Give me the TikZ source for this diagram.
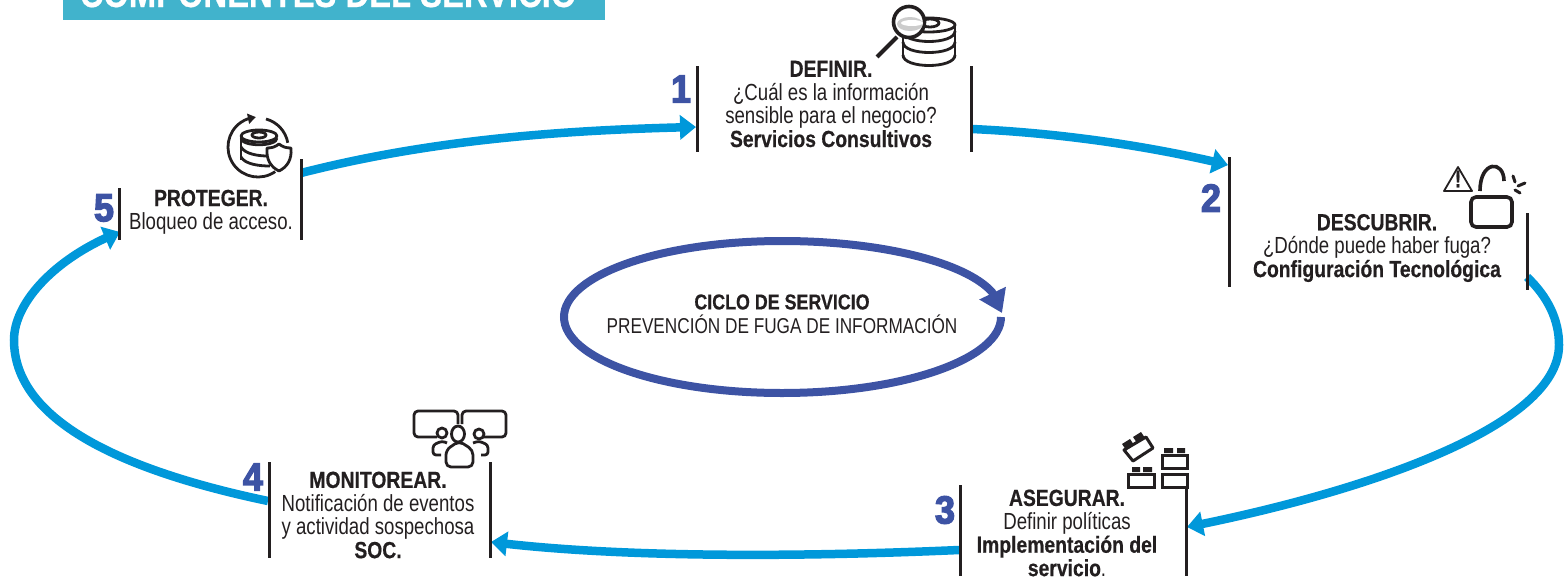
\documentclass[tikz,border=0pt]{standalone}
\usepackage{fontspec}
\setmainfont{Liberation Sans}[FakeStretch=0.8,BoldFeatures={FakeStretch=0.83,FakeBold=0.5}]
\newfontfamily\numfont{Liberation Sans Bold}[FakeStretch=0.92,FakeBold=3.5]
\usetikzlibrary{arrows.meta}
\usetikzlibrary{bending}
\definecolor{cielo}{HTML}{0098DA}
\definecolor{anil}{HTML}{3D53A4}
\definecolor{banda}{HTML}{41B3CC}
\definecolor{tinta}{HTML}{231F20}
\newcommand{\dbarc}[4]{(#1,#3) .. controls (#1,#3+#4) and (#2,#3+#4) .. (#2,#3)}
\tikzset{>={Triangle[length=16pt,width=24pt]}}
\tikzset{
	stagetext/.style={align=center,text=tinta,inner sep=0pt,font=\fontsize{23.3}{23.4}\selectfont},
	stagenum/.style={text=anil,inner sep=0pt,font=\fontsize{39}{39}\numfont},
	stagebar/.style={line width=3pt,tinta},
	cyclearrow/.style={line width=8.5pt,cielo,->},
	iconline/.style={line width=2.8pt,tinta,line join=round}
}

\begin{document}
\begin{tikzpicture}[x=1pt,y=-1pt]
			\useasboundingbox (0,0) rectangle (1566,579);
			\fill[banda] (63,-5) rectangle (605,20);
			\node[anchor=base,text=white,inner sep=0pt,font=\fontsize{39.5}{39.5}\selectfont\bfseries] (banner) at (328,7) {COMPONENTES DEL SERVICIO};

			\coordinate (defTL) at (697,66);
			\coordinate (defBL) at (697,152);
			\coordinate (defTR) at (971,66);
			\coordinate (defBR) at (971,152);
			\coordinate (desTL) at (1229,157);
			\coordinate (desBL) at (1229,287);
			\coordinate (desTR) at (1527,213);
			\coordinate (desBR) at (1527,290);
			\coordinate (aseTL) at (960,485);
			\coordinate (aseBL) at (960,576);
			\coordinate (aseTR) at (1186,489);
			\coordinate (aseBR) at (1186,576);
			\coordinate (monTL) at (269,462);
			\coordinate (monBL) at (269,558);
			\coordinate (monTR) at (490,462);
			\coordinate (monBR) at (490,558);
			\coordinate (proTL) at (119,188);
			\coordinate (proBL) at (119,240);
			\coordinate (proTR) at (301,159);
			\coordinate (proBR) at (301,240);

			\coordinate (inDef) at (696,127);
			\coordinate (outDef) at (972,129);
			\coordinate (inDes) at (1228,165);
			\coordinate (outDes) at (1527,277);
			\coordinate (inAse) at (1187,527);
			\coordinate (outAse) at (959,550);
			\coordinate (inMon) at (491,542);
			\coordinate (outMon) at (268,501);
			\coordinate (inPro) at (120,232);
			\coordinate (outPro) at (301,173);

			\draw[cyclearrow] (outPro) .. controls (430,140) and (560,130) .. (inDef);
			\draw[cyclearrow] (outDef) .. controls (1060,133) and (1150,146) .. (inDes);
			\draw[cyclearrow] (outDes) .. controls (1548,297) and (1559,320) .. (1559,345) .. controls (1559,430) and (1350,495) .. (inAse);
			\draw[cyclearrow] (outAse) .. controls (800,557) and (620,558) .. (inMon);
			\draw[cyclearrow] (outMon) .. controls (120,470) and (14,420) .. (14,340) .. controls (14,300) and (60,255) .. (inPro);

			\draw[stagebar] (defTL)--(defBL);
			\draw[stagebar] (defTR)--(defBR);
			\draw[stagebar] (desTL)--(desBL);
			\draw[stagebar] (desTR)--(desBR);
			\draw[stagebar] (aseTL)--(aseBL);
			\draw[stagebar] (aseTR)--(aseBR);
			\draw[stagebar] (monTL)--(monBL);
			\draw[stagebar] (monTR)--(monBR);
			\draw[stagebar] (proTL)--(proBL);
			\draw[stagebar] (proTR)--(proBR);

			\node[stagetext] (definir) at (831,104) {\textbf{DEFINIR.}\\¿Cuál es la información\\sensible para el negocio?\\\textbf{Servicios Consultivos}};
			\node[stagetext] (descubrir) at (1377,248) {\textbf{DESCUBRIR.}\\¿Dónde puede haber fuga?\\\textbf{Configuración Tecnológica}};
			\node[stagetext] (asegurar) at (1067,533) {\textbf{ASEGURAR.}\\Definir políticas\\\textbf{Implementación del}\\\textbf{servicio}.};
			\node[stagetext] (monitorear) at (378,515) {\textbf{MONITOREAR.}\\Notificación de eventos\\y actividad sospechosa\\\textbf{SOC.}};
			\node[stagetext] (proteger) at (211,212) {\textbf{PROTEGER.}\\Bloqueo de acceso.};
			\node[stagetext,font=\fontsize{21.5}{24}\selectfont] (ciclo) at (782,314) {\textbf{CICLO DE SERVICIO}\\PREVENCIÓN DE FUGA DE INFORMACIÓN};

			\node[stagenum] (num1) at (681,89) {1};
			\node[stagenum] (num2) at (1211,198) {2};
			\node[stagenum] (num3) at (945,510) {3};
			\node[stagenum] (num4) at (253,477) {4};
			\node[stagenum] (num5) at (104,208) {5};

			\draw[line width=8pt,anil,-{Triangle[length=22pt,width=28pt]}] (1001,317) .. controls (1001,359) and (903,393) .. (782,393) .. controls (661,393) and (564,359) .. (564,317) .. controls (564,275) and (661,241) .. (782,241) .. controls (880,241) and (965,262) .. (992,292) -- (1002,313);

			\draw[iconline] (929,25) ellipse [x radius=26,y radius=7];
			\draw[iconline] (930,23) ellipse [x radius=9,y radius=4];
			\draw[iconline] (903,25)--(903,57) (955,25)--(955,57);
			\draw[iconline] \dbarc{903}{955}{31}{14};
			\draw[iconline] \dbarc{903}{955}{42}{14};
			\draw[iconline] \dbarc{903}{955}{55}{14};
			\draw[line width=3.6pt,tinta,fill=white] (909,22) circle (15.5);
			\fill[black!20] (910,24) ellipse [x radius=13,y radius=7];
			\fill[white] (912,23) ellipse [x radius=11,y radius=3];
			\draw[line width=4pt,tinta] (897,37)--(877,57);

			\draw[line width=1.8pt,tinta,line join=round] (1458,167)--(1472,191)--(1444,191)--cycle;
			\node[inner sep=0pt,text=tinta,font=\fontsize{24}{24}\selectfont\bfseries] (alerta) at (1458,179) {!};
			\draw[line width=3.6pt,tinta,rounded corners=5pt] (1471,197) rectangle (1512,227);
			\draw[line width=3.6pt,tinta] (1480,191) .. controls (1480,160) and (1504,160) .. (1504,181);
			\draw[iconline,line width=3pt,line cap=round] (1513,176)--(1515,182) (1518,186)--(1525,183) (1515,190)--(1520,193);

			\draw[line width=3pt,tinta] (1128.5,474.5) rectangle (1154.5,487.5);
			\draw[line width=3pt,tinta] (1162.5,474.5) rectangle (1187.5,487.5);
			\draw[line width=3pt,tinta] (1162.5,455.5) rectangle (1187.5,468.5);
			\fill[tinta] (1132,467) rectangle (1140,472) (1143,467) rectangle (1152,472);
			\fill[tinta] (1164,448) rectangle (1173,453) (1177,448) rectangle (1185,453);
			\draw[line width=3pt,tinta,line join=round] (1124,450)--(1146,437)--(1153,448)--(1133,461)--cycle;
			\fill[tinta] (1122,444)--(1130,439)--(1134,445)--(1126,450)--cycle;
			\fill[tinta] (1133,437)--(1141,432)--(1145,438)--(1137,443)--cycle;

			\draw[iconline,rounded corners=4pt] (437,437)--(414,437)--(414,411)--(458,411)--(458,424);
			\draw[iconline,rounded corners=4pt] (462,424)--(462,411)--(506,411)--(506,437)--(482,437);
			\draw[iconline] (442,433) circle (5) (479,434) circle (5);
			\draw[iconline,rounded corners=3pt] (441,455)--(433,455)--(433,445)--(442,441)--(447,443);
			\draw[iconline,rounded corners=3pt] (481,455)--(488,455)--(488,445)--(479,441)--(473,443);
			\draw[iconline,fill=white,rounded corners=5pt] (446,467)--(446,450)--(459,441)--(473,450)--(473,467)--cycle;
			\draw[iconline,fill=white] (458,434) ellipse [x radius=6.5,y radius=8];

			\draw[iconline] (266,119) arc[start angle=-75,end angle=-10,radius=30];
			\draw[iconline,-{Triangle[length=8pt,width=10pt]}] (275.2,171.6) arc[start angle=55,end angle=266,radius=30];
			\draw[iconline] (259,136) ellipse [x radius=18,y radius=6];
			\draw[iconline] (259,135) ellipse [x radius=7,y radius=3];
			\draw[iconline] (241,136)--(241,160);
			\draw[iconline] \dbarc{241}{277}{138}{9};
			\draw[iconline] (241,147) .. controls (245,154) and (258,156) .. (268,156);
			\draw[iconline] (241,157) .. controls (245,164) and (258,166) .. (270,166);
			\draw[iconline,fill=white,line join=round] (279,144) .. controls (283,147) and (286,148) .. (291,148) .. controls (292,160) and (287,167) .. (279,171) .. controls (271,167) and (266,160) .. (267,148) .. controls (272,148) and (275,147) .. (279,144) -- cycle;
		\end{tikzpicture}
\end{document}
